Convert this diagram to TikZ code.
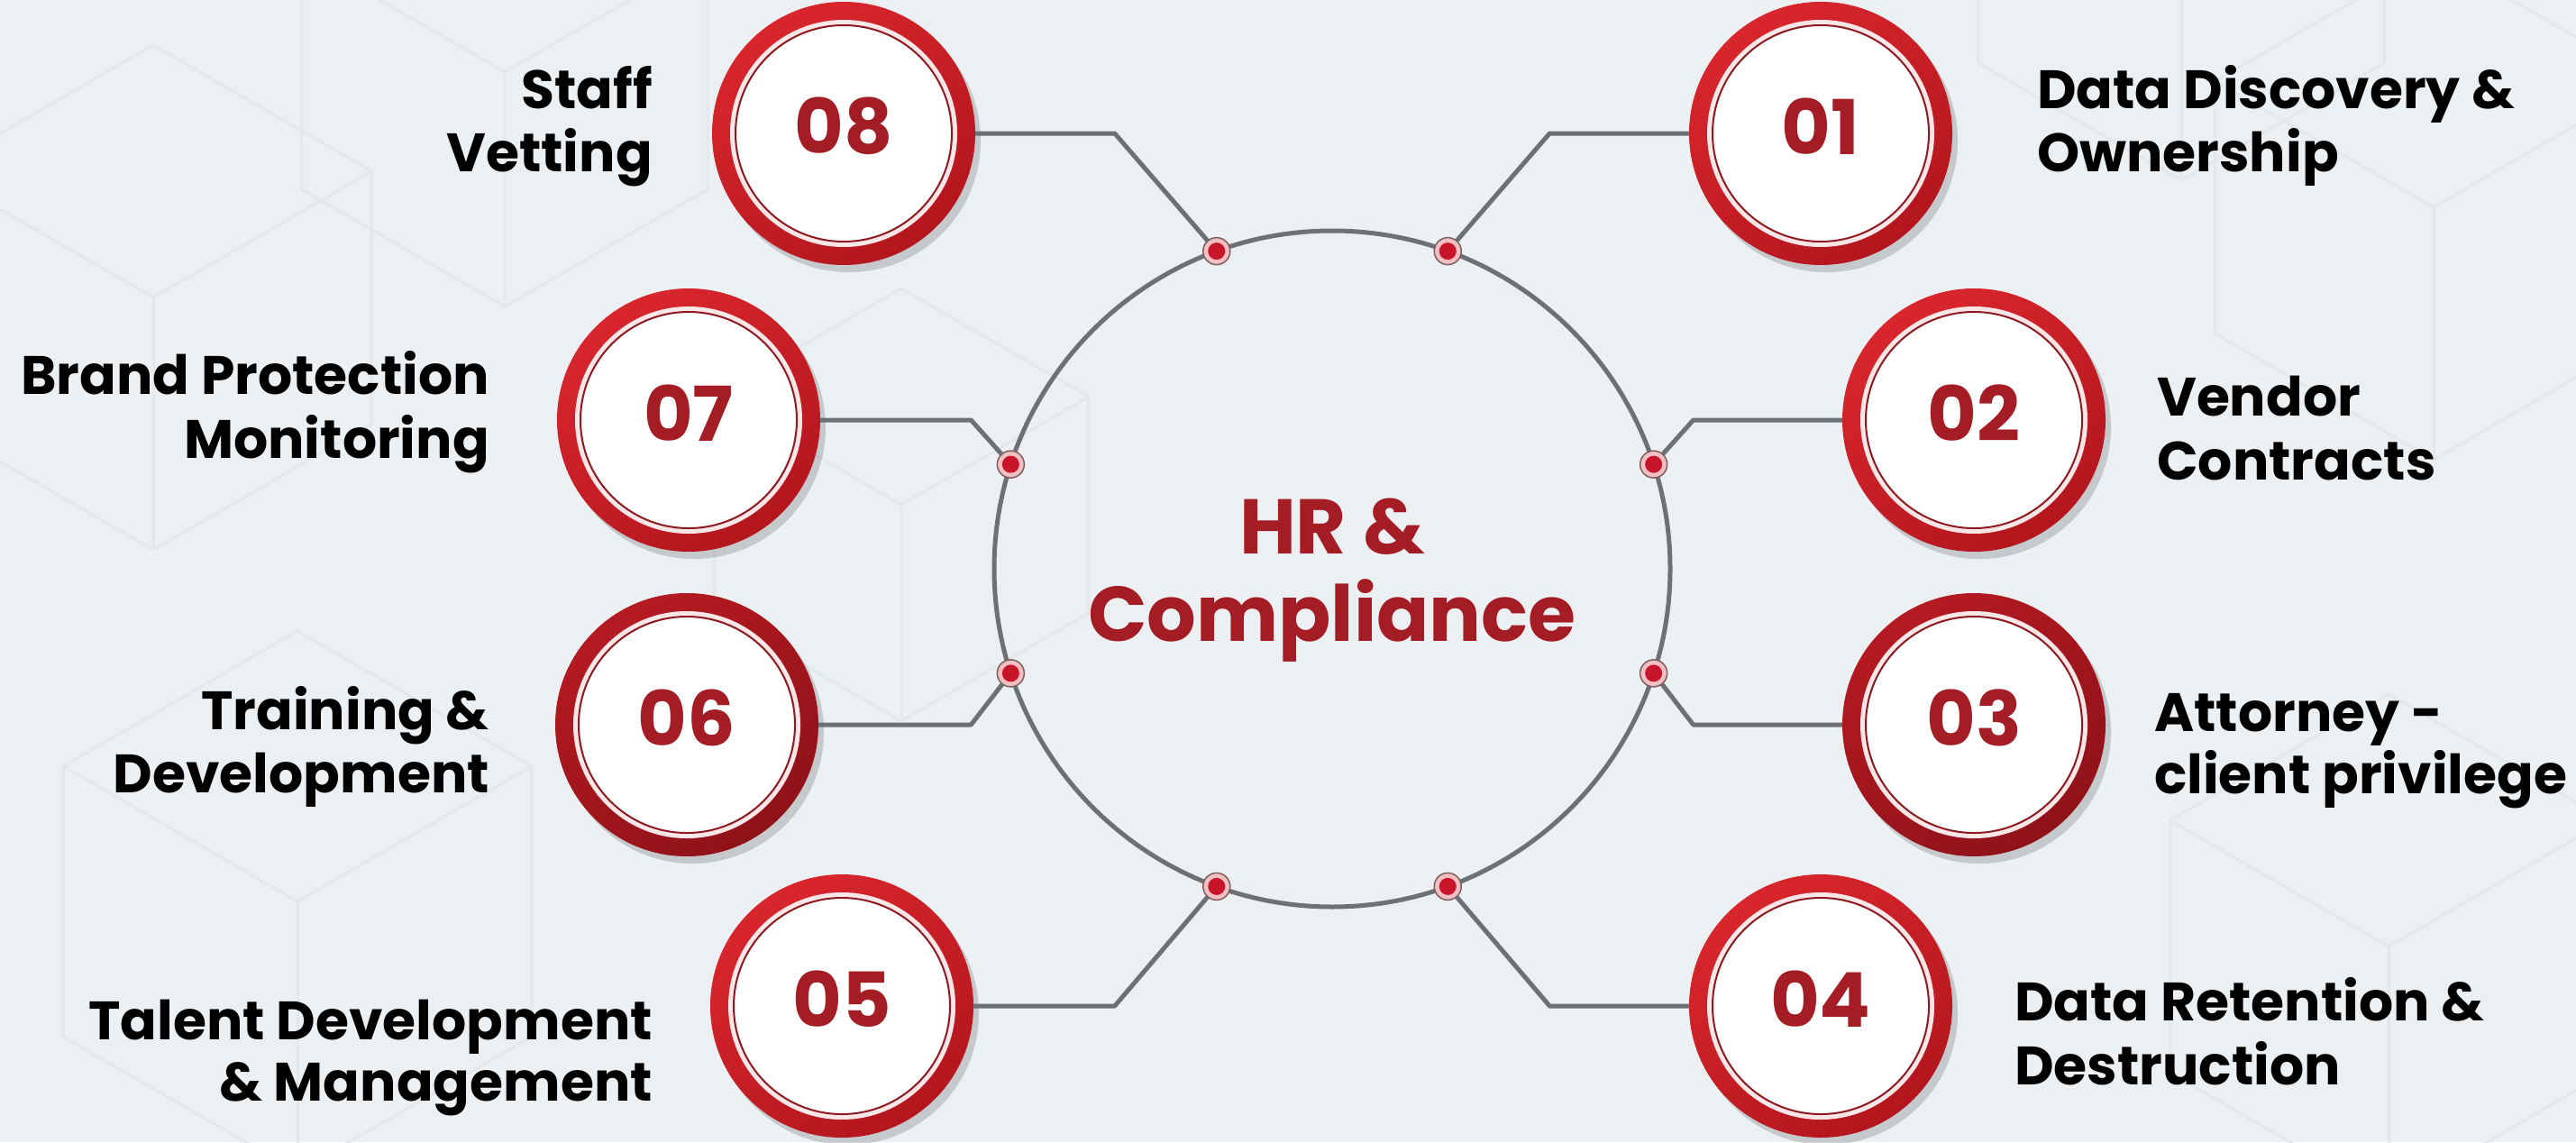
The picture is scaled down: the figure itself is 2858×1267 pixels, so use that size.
\documentclass[tikz,border=0pt]{standalone}
\usepackage{fontspec}
\setmainfont{Poppins}
\usetikzlibrary{shadows,calc}
\definecolor{bg}{HTML}{EDF0F3}
\definecolor{hexline}{HTML}{E5E8EB}
\definecolor{ringtop}{HTML}{D9262D}
\definecolor{ringbot}{HTML}{B3161E}
\definecolor{darktop}{HTML}{B51A21}
\definecolor{darkbot}{HTML}{8F1219}
\definecolor{innerline}{HTML}{8E1A1F}
\definecolor{gapcol}{HTML}{FBE6E7}
\definecolor{txtred}{HTML}{A41C24}
\definecolor{linegray}{HTML}{6D7074}
\definecolor{dotred}{HTML}{C8152A}
\definecolor{dotpink}{HTML}{F4BFC3}
\definecolor{dotrim}{HTML}{7B5F60}
\tikzset{
  badgebase/.style={circle, minimum size=292pt, inner sep=0pt, outer sep=0pt,
    drop shadow={shadow xshift=6pt, shadow yshift=-8pt, fill=black, opacity=.16},
    path picture={
      \fill[gapcol] (path picture bounding box.center) circle (126pt);
      \fill[white] (path picture bounding box.center) circle (119pt);
      \draw[innerline, line width=2pt] (path picture bounding box.center) circle (120pt);
    }},
  badge/.style={badgebase, top color=ringtop, bottom color=ringbot, shading angle=35},
  badgedark/.style={badgebase, top color=darktop, bottom color=darkbot, shading angle=35},
  numtxt/.style={inner sep=0pt, text=txtred, font=\fontsize{84}{84}\selectfont\bfseries},
  lbl/.style={inner sep=0pt, text=black, font=\fontsize{60}{70}\selectfont\bfseries},
  hubtxt/.style={inner sep=0pt, text=txtred, font=\fontsize{86}{96}\selectfont\bfseries},
  dotnode/.style={circle, minimum size=30pt, inner sep=0pt, outer sep=0pt,
    fill=dotpink, draw=dotrim, line width=1.5pt,
    path picture={\fill[dotred] (path picture bounding box.center) circle (9.5pt);}},
  conn/.style={draw=linegray, line width=5pt, line join=round},
  cube/.style={draw=hexline, line width=3pt, line join=round}
}
\begin{document}
\begin{tikzpicture}[x=1pt,y=-1pt]
\fill[bg] (0,0) rectangle (2858,1267);
\useasboundingbox (0,0) rectangle (2858,1267);
% faint background cubes
\foreach \cx/\cy/\s in {170/330/280, 560/80/260, 330/1000/300, 2700/230/280, 2420/-60/260, 2650/1050/280, 1000/560/240}{
  \draw[cube] (\cx,\cy-\s) -- (\cx+0.866*\s,\cy-0.5*\s) -- (\cx+0.866*\s,\cy+0.5*\s) -- (\cx,\cy+\s)
     -- (\cx-0.866*\s,\cy+0.5*\s) -- (\cx-0.866*\s,\cy-0.5*\s) -- cycle;
  \draw[cube] (\cx-0.866*\s,\cy-0.5*\s) -- (\cx,\cy) -- (\cx+0.866*\s,\cy-0.5*\s);
  \draw[cube] (\cx,\cy) -- (\cx,\cy+\s);
}
% hub
\node[circle, minimum size=750pt, inner sep=0pt, outer sep=0pt, draw=linegray, line width=5pt] (hub) at (1478,631) {};
\node[hubtxt, anchor=base] (hubA) at (1478,614) {HR \&};
\node[hubtxt, anchor=base] (hubB) at (1478,711) {Compliance};
% badges
\node[badge] (b1) at (2020,148) {};
\node[badge] (b2) at (2190,466) {};
\node[badgedark] (b3) at (2190,804) {};
\node[badge] (b4) at (2020,1116) {};
\node[badge] (b5) at (934,1116) {};
\node[badgedark] (b6) at (762,804) {};
\node[badge] (b7) at (764,466) {};
\node[badge] (b8) at (936,148) {};
% dots
\node[dotnode] (d1) at (hub.70) {};
\node[dotnode] (d2) at (hub.18) {};
\node[dotnode] (d3) at (hub.-18) {};
\node[dotnode] (d4) at (hub.-70) {};
\node[dotnode] (d5) at (hub.-110) {};
\node[dotnode] (d6) at (hub.198) {};
\node[dotnode] (d7) at (hub.162) {};
\node[dotnode] (d8) at (hub.110) {};
% bend points
\path let \p1=(d1.center), \p2=(b1.center) in coordinate (k1) at (\x1+113pt,\y2);
\path let \p1=(d2.center), \p2=(b2.center) in coordinate (k2) at (\x1+44pt,\y2);
\path let \p1=(d3.center), \p2=(b3.center) in coordinate (k3) at (\x1+44pt,\y2);
\path let \p1=(d4.center), \p2=(b4.center) in coordinate (k4) at (\x1+113pt,\y2);
\path let \p1=(d5.center), \p2=(b5.center) in coordinate (k5) at (\x1-113pt,\y2);
\path let \p1=(d6.center), \p2=(b6.center) in coordinate (k6) at (\x1-44pt,\y2);
\path let \p1=(d7.center), \p2=(b7.center) in coordinate (k7) at (\x1-44pt,\y2);
\path let \p1=(d8.center), \p2=(b8.center) in coordinate (k8) at (\x1-113pt,\y2);
% connectors
\foreach \i in {1,...,8}{
  \draw[conn] (d\i) -- (k\i) -- (b\i);
}
% numbers
\node[numtxt] (n1) at ($(b1.center)+(0,-8)$) {01};
\node[numtxt] (n2) at ($(b2.center)+(0,-8)$) {02};
\node[numtxt] (n3) at ($(b3.center)+(0,-8)$) {03};
\node[numtxt] (n4) at ($(b4.center)+(0,-8)$) {04};
\node[numtxt] (n5) at ($(b5.center)+(0,-8)$) {05};
\node[numtxt] (n6) at ($(b6.center)+(0,-8)$) {06};
\node[numtxt] (n7) at ($(b7.center)+(0,-8)$) {07};
\node[numtxt] (n8) at ($(b8.center)+(0,-8)$) {08};
% labels right
\node[lbl, anchor=base west] (t1a) at (2260,120) {Data Discovery \&};
\node[lbl, anchor=base west] (t1b) at (2260,190) {Ownership};
\node[lbl, anchor=base west] (t2a) at (2393,461) {Vendor};
\node[lbl, anchor=base west] (t2b) at (2393,532) {Contracts};
\node[lbl, anchor=base west] (t3a) at (2390,811) {Attorney -};
\node[lbl, anchor=base west] (t3b) at (2390,880) {client privilege};
\node[lbl, anchor=base west] (t4a) at (2235,1132) {Data Retention \&};
\node[lbl, anchor=base west] (t4b) at (2235,1203) {Destruction};
% labels left
\node[lbl, anchor=base east] (t5a) at (724,1153) {Talent Development};
\node[lbl, anchor=base east] (t5b) at (724,1221) {\& Management};
\node[lbl, anchor=base east] (t6a) at (543,809) {Training \&};
\node[lbl, anchor=base east] (t6b) at (543,879) {Development};
\node[lbl, anchor=base east] (t7a) at (543,437) {Brand Protection};
\node[lbl, anchor=base east] (t7b) at (543,508) {Monitoring};
\node[lbl, anchor=base east] (t8a) at (724,120) {Staff};
\node[lbl, anchor=base east] (t8b) at (724,190) {Vetting};
\end{tikzpicture}
\end{document}
